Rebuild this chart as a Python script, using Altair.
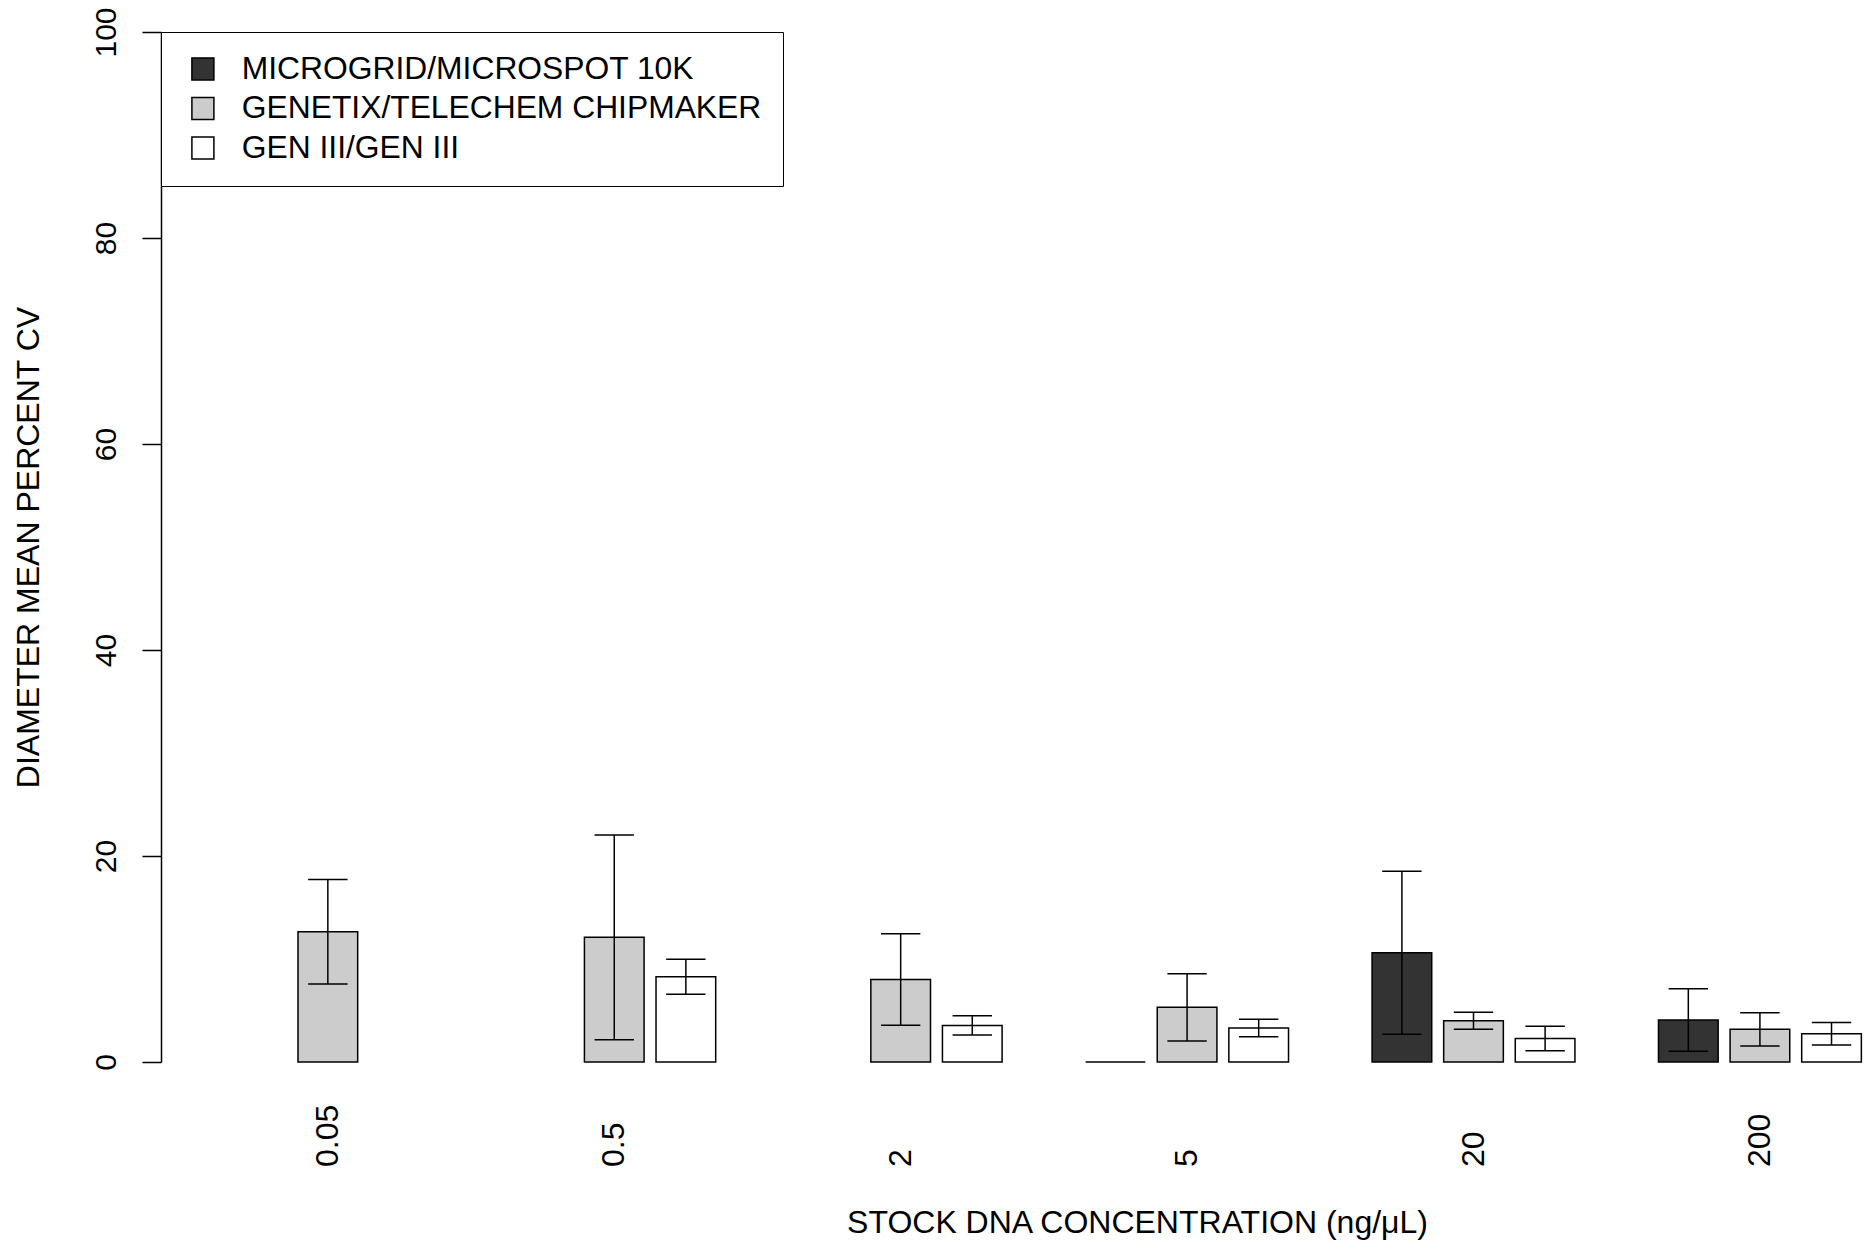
import altair as alt
import pandas as pd

FONT = "Liberation Sans"

series = ["MICROGRID/MICROSPOT 10K", "GENETIX/TELECHEM CHIPMAKER", "GEN III/GEN III"]
series_colors = ["#333333", "#cccccc", "#ffffff"]
concentrations = ["0.05", "0.5", "2", "5", "20", "200"]

mean_microgrid = [None, None, None, 0.0, 10.6, 4.08]
mean_genetix = [12.65, 12.1, 8.01, 5.31, 4.0, 3.17]
mean_gen3 = [None, 8.27, 3.55, 3.30, 2.28, 2.74]

sd_microgrid = [None, None, None, 0.0, 7.91, 3.04]
sd_genetix = [5.07, 9.94, 4.45, 3.27, 0.83, 1.62]
sd_gen3 = [None, 1.70, 0.93, 0.84, 1.18, 1.09]

y_ticks = [0, 20, 40, 60, 80, 100]
x_title = "STOCK DNA CONCENTRATION (ng/\u03bcL)"
y_title = "DIAMETER MEAN PERCENT CV"

# R barplot(beside=TRUE, space=c(0.2, 1.4)) layout in bar-width units
SP_IN, SP_GRP, BW = 0.2, 1.4, 1.0
GROUP_STEP = 3 * BW + 2 * SP_IN + SP_GRP
CAP_HALF = 0.33

means = [mean_microgrid, mean_genetix, mean_gen3]
sds = [sd_microgrid, sd_genetix, sd_gen3]

bar_rows, err_rows, cap_rows = [], [], []
for g, conc in enumerate(concentrations):
    for s, name in enumerate(series):
        m = means[s][g]
        if m is None:
            continue
        left = SP_GRP + g * GROUP_STEP + s * (BW + SP_IN)
        center = left + BW / 2
        bar_rows.append(dict(conc=conc, series=name, left=left, right=left + BW,
                             mean=m, base=0.0))
        sd = sds[s][g]
        if sd:
            err_rows.append(dict(series=name, center=center, lo=m - sd, hi=m + sd))
            for v in (m - sd, m + sd):
                cap_rows.append(dict(cl=center - CAP_HALF, cr=center + CAP_HALF, v=v))

bars_df = pd.DataFrame(bar_rows)
err_df = pd.DataFrame(err_rows)
cap_df = pd.DataFrame(cap_rows)
lab_df = pd.DataFrame(dict(
    label=concentrations,
    cx=[SP_GRP + g * GROUP_STEP + (BW + SP_IN) + BW / 2 for g in range(len(concentrations))],
))

# plot-region geometry
X_MIN = SP_GRP - 0.04 * (len(concentrations) * GROUP_STEP - SP_GRP)
PX_PER_UNIT = 59.67
W, H = 1706, 1030
X_MAX = X_MIN + W / PX_PER_UNIT

x_scale = alt.Scale(domain=[X_MIN, X_MAX], nice=False, zero=False)
y_scale = alt.Scale(domain=[0, 100], nice=False)

x_axis = alt.Axis(title=x_title, labels=False, ticks=False, domain=False, grid=False,
                  titleFontSize=32, titleFont=FONT, titleFontWeight="normal",
                  titleColor="black", titleX=976, titleY=170, titleAlign="center",
                  titleBaseline="alphabetic")
y_axis = alt.Axis(title=y_title, values=y_ticks, grid=False, domainColor="black",
                  domainWidth=1.5, tickColor="black", tickWidth=1.5, tickSize=19,
                  labelAngle=270, labelAlign="center", labelBaseline="alphabetic",
                  labelPadding=27, labelFontSize=30, labelFont=FONT, labelColor="black",
                  labelOverlap=False, titleFontSize=32, titleFont=FONT,
                  titleFontWeight="normal", titleColor="black", titleAngle=270,
                  titleX=-123, titleY=515, titleAlign="center",
                  titleBaseline="alphabetic")

bars = alt.Chart(bars_df).mark_bar(stroke="black", strokeWidth=1.5).encode(
    x=alt.X("left:Q", scale=x_scale, axis=x_axis),
    x2="right:Q",
    y=alt.Y("mean:Q", scale=y_scale, axis=y_axis),
    y2="base:Q",
    fill=alt.Fill("series:N", sort=series,
                  scale=alt.Scale(domain=series, range=series_colors),
                  legend=alt.Legend(title=None, orient="none", legendX=0, legendY=0,
                                    padding=21, strokeColor="black", fillColor="white",
                                    cornerRadius=0, symbolType="square", symbolSize=484,
                                    symbolStrokeColor="black", symbolStrokeWidth=1.5,
                                    symbolOffset=5,
                                    labelFontSize=31.8, labelFont=FONT, labelColor="black",
                                    labelOffset=23, rowPadding=6.5, labelLimit=0)),
)

stems = alt.Chart(err_df).mark_rule(color="black", strokeWidth=1.5).encode(
    x=alt.X("center:Q", scale=x_scale, axis=x_axis),
    y=alt.Y("lo:Q", scale=y_scale, axis=y_axis),
    y2="hi:Q",
)

caps = alt.Chart(cap_df).mark_rule(color="black", strokeWidth=1.5).encode(
    x=alt.X("cl:Q", scale=x_scale, axis=x_axis),
    x2="cr:Q",
    y=alt.Y("v:Q", scale=y_scale, axis=y_axis),
)

labels = alt.Chart(lab_df).mark_text(angle=270, align="left", baseline="middle",
                                     fontSize=32, font=FONT, color="black").encode(
    x=alt.X("cx:Q", scale=x_scale, axis=x_axis),
    y=alt.value(1135),
    text="label:N",
)

chart = alt.layer(bars, stems, caps, labels).properties(
    width=W, height=H,
    autosize=alt.AutoSizeParams(type="none"),
    padding={"left": 161, "top": 32, "right": 8, "bottom": 187},
    background="white",
).configure_view(strokeWidth=0)

chart.save("out.html", embed_options={"renderer": "svg", "actions": False})
